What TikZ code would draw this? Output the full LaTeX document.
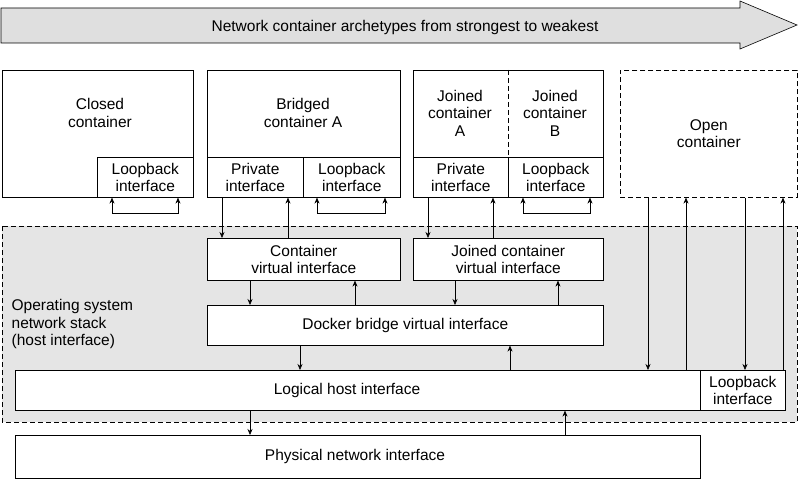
\documentclass[tikz,border=0pt]{standalone}
\usepackage{fontspec}
\setmainfont{Liberation Sans}
\usetikzlibrary{arrows.meta}
\begin{document}
\begin{tikzpicture}[x=1pt,y=-1pt,semithick,
  font=\fontsize{15.5}{17.5}\selectfont,
  box/.style={draw,fill=white,anchor=north west,align=center,inner sep=2pt},
  arr/.style={-{Stealth[length=6pt,width=5pt]}},
  barr/.style={{Stealth[length=6pt,width=5pt]}-{Stealth[length=6pt,width=5pt]}},
  dsh/.style={dash pattern=on 5pt off 3pt}]
  \useasboundingbox (0,0) rectangle (800,500);

  % banner arrow
  \draw[fill=gray!25] (1,8) -- (740,8) -- (740,1) -- (797,25) -- (740,49) -- (740,43) -- (1,43) -- cycle;
  \node (banner) at (405,27) {Network container archetypes from strongest to weakest};

  % host stack region
  \draw[dsh,fill=gray!20] (2,226) rectangle (797,422);
  \node[anchor=north west,align=left] (os) at (8,296) {Operating system\\network stack\\(host interface)};

  % containers
  \node[box,minimum width=191pt,minimum height=127pt] (closed) at (2,70) {};
  \node[align=center] at (100,113) {Closed\\container};
  \node[box,minimum width=96pt,minimum height=40pt] (lbC) at (97,157) {Loopback\\interface};

  \node[box,minimum width=193pt,minimum height=127pt] (bridged) at (207,70) {};
  \node[align=center] at (303,113) {Bridged\\container A};
  \node[box,minimum width=96pt,minimum height=40pt] (privB) at (207,157) {Private\\interface};
  \node[box,minimum width=97pt,minimum height=40pt] (lbB) at (303,157) {Loopback\\interface};

  \node[box,minimum width=190pt,minimum height=127pt] (joined) at (413,70) {};
  \draw[dsh] (508,70) -- (508,157);
  \node[align=center] at (460,113) {Joined\\container\\A};
  \node[align=center] at (555,113) {Joined\\container\\B};
  \node[box,minimum width=95pt,minimum height=40pt] (privJ) at (413,157) {Private\\interface};
  \node[box,minimum width=95pt,minimum height=40pt] (lbJ) at (508,157) {Loopback\\interface};

  \node[box,dsh,minimum width=177pt,minimum height=127pt] (open) at (620,70) {Open\\container};

  % virtual interfaces
  \node[box,minimum width=193pt,minimum height=42pt] (cvi) at (207,238) {Container\\virtual interface};
  \node[box,minimum width=190pt,minimum height=42pt] (jvi) at (413,238) {Joined container\\virtual interface};
  \node[box,minimum width=396pt,minimum height=40pt] (bridge) at (207,305) {Docker bridge virtual interface};
  \node[box,minimum width=685pt,minimum height=40pt] (host) at (15,370) {};
  \node at (347,390) {Logical host interface};
  \node[box,minimum width=85pt,minimum height=40pt] (lbH) at (700,370) {Loopback\\interface};
  \node[box,minimum width=685pt,minimum height=43pt] (phys) at (15,435) {};
  \node at (355,456) {Physical network interface};

  % loopback brackets
  \draw[barr] (lbC.south -| 112,0) -- ++(0,16) -| (lbC.south -| 178,0);
  \draw[barr] (lbB.south -| 317,0) -- ++(0,16) -| (lbB.south -| 385,0);
  \draw[barr] (lbJ.south -| 523,0) -- ++(0,16) -| (lbJ.south -| 590,0);

  % container to virtual interface
  \draw[arr] (privB.south -| 222,0) -- (cvi.north -| 222,0);
  \draw[arr] (cvi.north -| 288,0) -- (lbB.south -| 288,0);
  \draw[arr] (privJ.south -| 428,0) -- (jvi.north -| 428,0);
  \draw[arr] (jvi.north -| 493,0) -- (privJ.south -| 493,0);

  % virtual interface to bridge
  \draw[arr] (cvi.south -| 250,0) -- (bridge.north -| 250,0);
  \draw[arr] (bridge.north -| 355,0) -- (cvi.south -| 355,0);
  \draw[arr] (jvi.south -| 455,0) -- (bridge.north -| 455,0);
  \draw[arr] (bridge.north -| 558,0) -- (jvi.south -| 558,0);

  % bridge to host
  \draw[arr] (bridge.south -| 300,0) -- (host.north -| 300,0);
  \draw[arr] (host.north -| 510,0) -- (bridge.south -| 510,0);

  % open container
  \draw[arr] (open.south -| 648,0) -- (host.north -| 648,0);
  \draw[arr] (host.north -| 686,0) -- (open.south -| 686,0);
  \draw[arr] (open.south -| 745,0) -- (lbH.north -| 745,0);
  \draw[arr] (lbH.north -| 783,0) -- (open.south -| 783,0);

  % host to physical
  \draw[arr] (host.south -| 250,0) -- (phys.north -| 250,0);
  \draw[arr] (phys.north -| 565,0) -- (host.south -| 565,0);
\end{tikzpicture}
\end{document}
